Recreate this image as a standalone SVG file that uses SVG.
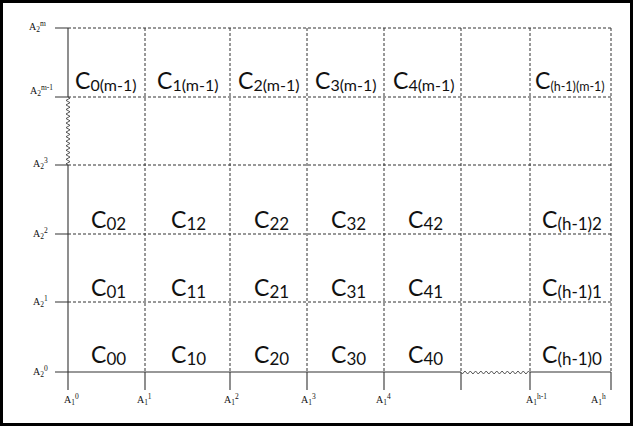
<svg xmlns="http://www.w3.org/2000/svg" width="634" height="427" viewBox="0 0 634 427">
<style>
.grid{stroke:#333;stroke-width:1;stroke-dasharray:3,2;fill:none}
.axis{stroke:#333;stroke-width:1.1;fill:none}
.zig{stroke:#444;stroke-width:0.9;fill:none}
.ax{font-family:"Liberation Serif",serif;font-size:10px;fill:#111}
.s{font-size:7.5px}
.c{font-family:Lato,"Liberation Sans",sans-serif;font-size:23px;fill:#111}
.cs{font-size:17px}
.cm{font-size:16px}
.ct{font-size:12.5px}
</style>
<rect x="1.5" y="1.5" width="630" height="423" fill="#fff" stroke="#000" stroke-width="3"/>
<g id="grid">
<path class="grid" d="M68,28H611M68,97H611M68,165H611M68,234H611M68,302H611"/>
<path class="grid" d="M145,28V372M230,28V372M307,28V372M384,28V372M461,28V372M530,28V372M611,28V372"/>
</g>
<g id="connectors">
<path class="axis" d="M68,28V97M68,165V390M55,28H68M55,97H68M55,165H68M55,234H68M55,302H68M55,372H68"/>
<path class="axis" d="M68,372H461M530,372H611M145,372V390M230,372V390M307,372V390M384,372V390M461,372V390M530,372V390M611,372V390"/>
<path class="zig" d="M68,97l2,1.134l-4,2.267l4,2.267l-4,2.267l4,2.267l-4,2.267l4,2.267l-4,2.267l4,2.267l-4,2.267l4,2.267l-4,2.267l4,2.267l-4,2.267l4,2.267l-4,2.267l4,2.267l-4,2.267l4,2.267l-4,2.267l4,2.267l-4,2.267l4,2.267l-4,2.267l4,2.267l-4,2.267l4,2.267l-4,2.267l4,2.267l-4,2.267l2,1.133"/>
<path class="zig" d="M461,372.5l1.325,1.5l2.65,-3l2.65,3l2.65,-3l2.65,3l2.65,-3l2.65,3l2.65,-3l2.65,3l2.65,-3l2.65,3l2.65,-3l2.65,3l2.65,-3l2.65,3l2.65,-3l2.65,3l2.65,-3l2.65,3l2.65,-3l2.65,3l2.65,-3l2.65,3l2.65,-3l2.65,3l2.65,-3l1.325,1.5"/>
</g>
<g id="axis-labels">
<text class="ax" x="29" y="30">A<tspan class="s" dy="2">2</tspan><tspan class="s" dy="-6">m</tspan></text>
<text class="ax" x="30" y="94">A<tspan class="s" dy="2">2</tspan><tspan class="s" dy="-6">m-1</tspan></text>
<text class="ax" x="33" y="167">A<tspan class="s" dy="2">2</tspan><tspan class="s" dy="-6">3</tspan></text>
<text class="ax" x="33" y="237">A<tspan class="s" dy="2">2</tspan><tspan class="s" dy="-6">2</tspan></text>
<text class="ax" x="33" y="305">A<tspan class="s" dy="2">2</tspan><tspan class="s" dy="-6">1</tspan></text>
<text class="ax" x="33" y="375">A<tspan class="s" dy="2">2</tspan><tspan class="s" dy="-6">0</tspan></text>
<text class="ax" x="64" y="403">A<tspan class="s" dy="2">1</tspan><tspan class="s" dy="-6">0</tspan></text>
<text class="ax" x="137" y="403">A<tspan class="s" dy="2">1</tspan><tspan class="s" dy="-6">1</tspan></text>
<text class="ax" x="224" y="403">A<tspan class="s" dy="2">1</tspan><tspan class="s" dy="-6">2</tspan></text>
<text class="ax" x="301" y="403">A<tspan class="s" dy="2">1</tspan><tspan class="s" dy="-6">3</tspan></text>
<text class="ax" x="376" y="403">A<tspan class="s" dy="2">1</tspan><tspan class="s" dy="-6">4</tspan></text>
<text class="ax" x="526" y="403">A<tspan class="s" dy="2">1</tspan><tspan class="s" dy="-6">h-1</tspan></text>
<text class="ax" x="591" y="403">A<tspan class="s" dy="2">1</tspan><tspan class="s" dy="-6">h</tspan></text>
</g>
<g id="c0m"><text class="c" x="75" y="88.5">C<tspan class="cm" dy="2">0(m-1)</tspan></text></g>
<g id="c1m"><text class="c" x="157" y="88.5">C<tspan class="cm" dy="2">1(m-1)</tspan></text></g>
<g id="c2m"><text class="c" x="238" y="88.5">C<tspan class="cm" dy="2">2(m-1)</tspan></text></g>
<g id="c3m"><text class="c" x="315" y="88.5">C<tspan class="cm" dy="2">3(m-1)</tspan></text></g>
<g id="c4m"><text class="c" x="393" y="88.5">C<tspan class="cm" dy="2">4(m-1)</tspan></text></g>
<g id="chm"><text class="c" x="535" y="88.5">C<tspan class="ct" dy="2">(h-1)(m-1)</tspan></text></g>
<g id="c02"><text class="c" x="91" y="228">C<tspan class="cs" dy="2">02</tspan></text></g>
<g id="c12"><text class="c" x="171" y="228">C<tspan class="cs" dy="2">12</tspan></text></g>
<g id="c22"><text class="c" x="254" y="228">C<tspan class="cs" dy="2">22</tspan></text></g>
<g id="c32"><text class="c" x="331" y="228">C<tspan class="cs" dy="2">32</tspan></text></g>
<g id="c42"><text class="c" x="408" y="228">C<tspan class="cs" dy="2">42</tspan></text></g>
<g id="ch2"><text class="c" x="542" y="228">C<tspan class="cs" dy="2">(h-1)2</tspan></text></g>
<g id="c01"><text class="c" x="91" y="295.5">C<tspan class="cs" dy="2">01</tspan></text></g>
<g id="c11"><text class="c" x="171" y="295.5">C<tspan class="cs" dy="2">11</tspan></text></g>
<g id="c21"><text class="c" x="254" y="295.5">C<tspan class="cs" dy="2">21</tspan></text></g>
<g id="c31"><text class="c" x="331" y="295.5">C<tspan class="cs" dy="2">31</tspan></text></g>
<g id="c41"><text class="c" x="408" y="295.5">C<tspan class="cs" dy="2">41</tspan></text></g>
<g id="ch1"><text class="c" x="542" y="295.5">C<tspan class="cs" dy="2">(h-1)1</tspan></text></g>
<g id="c00"><text class="c" x="91" y="363">C<tspan class="cs" dy="2">00</tspan></text></g>
<g id="c10"><text class="c" x="171" y="363">C<tspan class="cs" dy="2">10</tspan></text></g>
<g id="c20"><text class="c" x="254" y="363">C<tspan class="cs" dy="2">20</tspan></text></g>
<g id="c30"><text class="c" x="331" y="363">C<tspan class="cs" dy="2">30</tspan></text></g>
<g id="c40"><text class="c" x="408" y="363">C<tspan class="cs" dy="2">40</tspan></text></g>
<g id="ch0"><text class="c" x="542" y="363">C<tspan class="cs" dy="2">(h-1)0</tspan></text></g>
</svg>
